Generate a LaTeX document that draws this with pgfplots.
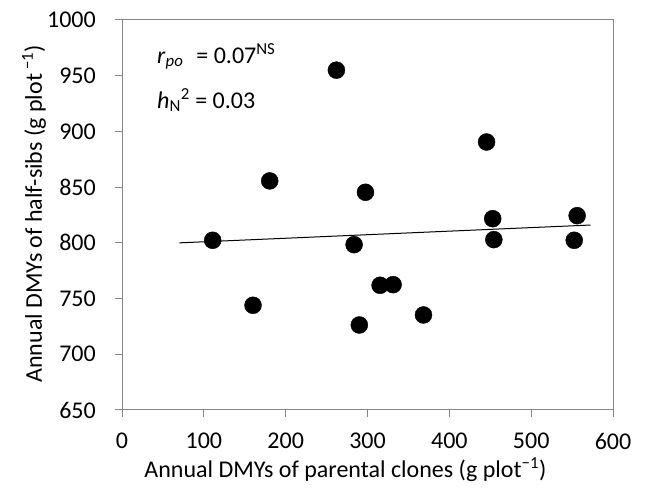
\documentclass[border=0pt]{standalone}
\usepackage{fontspec}
\setmainfont{Carlito}
\usepackage{pgfplots}
\pgfplotsset{compat=1.18}
\definecolor{axisgray}{RGB}{134,134,134}

% Annual dry matter yields: parental clone (x) vs. half-sib progeny (y)
\pgfplotstableread{
x      y
110.8  802.3
160.1  744.0
180.5  855.6
262.0  955.0
283.6  798.4
290.0  726.3
297.5  845.4
315.4  761.9
331.3  762.5
368.4  735.3
445.5  890.5
453.0  821.7
454.4  802.9
552.6  802.3
556.2  824.4
}\dmydata

\newcommand{\chartfont}{\fontsize{24bp}{29bp}\selectfont}

\begin{document}
\chartfont
\begin{tikzpicture}
\useasboundingbox (0,0) rectangle (645bp,490bp);
\begin{axis}[
  at={(122bp,80bp)}, anchor=south west,
  scale only axis, width=491bp, height=390bp,
  xmin=0, xmax=600, ymin=650, ymax=1000,
  xtick={0,100,...,600}, ytick={650,700,...,1000},
  tick align=outside, xtick pos=bottom, ytick pos=left,
  major tick length=7bp,
  axis line style={axisgray, line width=1bp},
  tick style={axisgray, line width=1bp},
  /pgf/number format/assume math mode=true,
  /pgf/number format/1000 sep={},
  tick label style={font=\chartfont, black},
  xticklabel style={yshift=-8bp},
  yticklabel style={xshift=-11bp},
  label style={font=\chartfont},
  xlabel={Annual DMYs of parental clones (g plot\textsuperscript{−1})},
  ylabel={Annual DMYs of half-sibs (g plot\,\textsuperscript{−1})},
  xlabel style={at={(axis description cs:0.455,-0.172)}, anchor=base},
  ylabel style={at={(axis description cs:-0.179,0.503)}, anchor=center},
  clip=false,
]
\addplot[only marks, mark=*, mark size=8.5bp, black] table[x=x, y=y] {\dmydata};
\addplot[black, line width=1bp] coordinates {(70,800) (572.5,816)};
\node[anchor=base west, inner sep=0pt] at (axis cs:42.8,961.4)
  {\textit{r}\textsubscript{\textit{po}}\hspace{13bp}= 0.07\textsuperscript{NS}};
\node[anchor=base west, inner sep=0pt] at (axis cs:42.8,921)
  {\textit{h}\textsubscript{N}\textsuperscript{2} = 0.03};
\end{axis}
\end{tikzpicture}
\end{document}
